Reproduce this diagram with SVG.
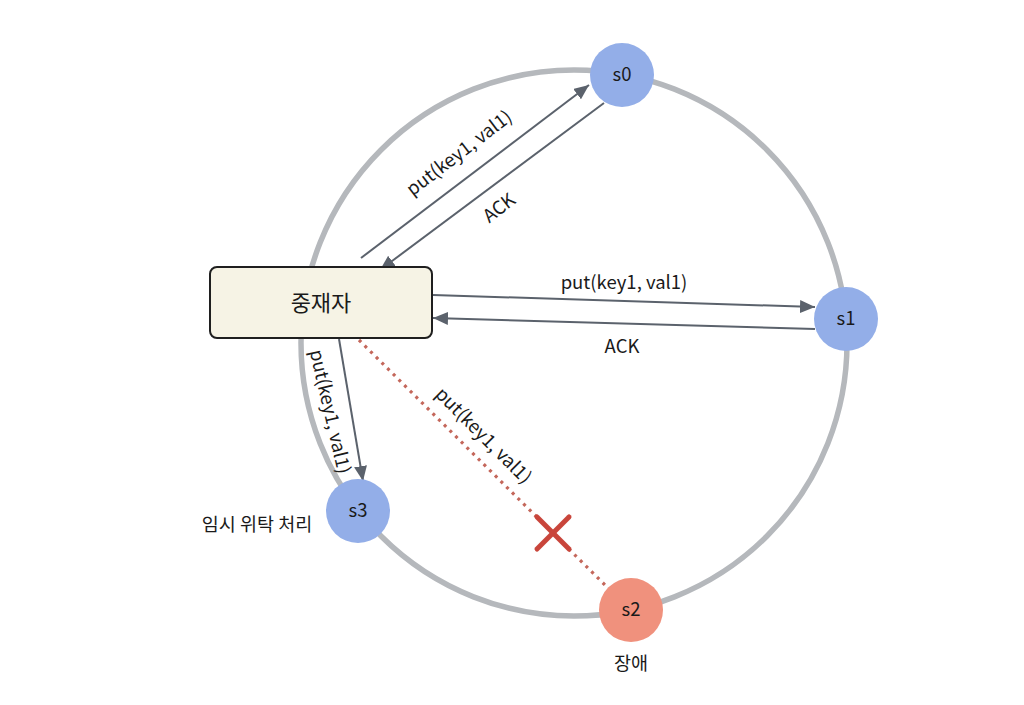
<svg xmlns="http://www.w3.org/2000/svg" width="1024" height="705" viewBox="0 0 1024 705">
<style>
.lbl{font-family:"Noto Sans CJK KR","Noto Sans",sans-serif;font-size:18.5px;fill:#1a1a1a}
.ko{font-family:"Noto Sans CJK KR","Noto Sans",sans-serif;fill:#1a1a1a}
.arr{stroke:#5b626c;stroke-width:2;fill:none}
.node-blue{fill:#93aee8}
.node-red{fill:#f0917d}
</style>
<defs>
<marker id="ah" markerUnits="userSpaceOnUse" markerWidth="15" markerHeight="13" refX="15" refY="6.5" orient="auto">
<path d="M0,0 L15,6.5 L0,13 z" fill="#5b626c"/>
</marker>
</defs>
<rect width="1024" height="705" fill="#ffffff"/>
<circle id="ring" cx="574" cy="343" r="273" fill="none" stroke="#b5b8bc" stroke-width="5.5"/>
<g id="connectors">
<line class="arr" x1="361" y1="258" x2="589" y2="85" marker-end="url(#ah)"/>
<line class="arr" x1="604" y1="103" x2="380" y2="270" marker-end="url(#ah)"/>
<line class="arr" x1="433" y1="295" x2="815" y2="307" marker-end="url(#ah)"/>
<line class="arr" x1="815" y1="329" x2="433" y2="318" marker-end="url(#ah)"/>
<line class="arr" x1="339" y1="339" x2="363" y2="481" marker-end="url(#ah)"/>
<line x1="359" y1="340" x2="606" y2="586" stroke="#c4675b" stroke-width="3.2" stroke-dasharray="3 5"/>
<text class="lbl" transform="translate(463,158) rotate(-37.3)" text-anchor="middle">put(key1, val1)</text>
<text class="lbl" transform="translate(503,213) rotate(-37.3)" text-anchor="middle">ACK</text>
<text class="lbl" x="624" y="289" text-anchor="middle">put(key1, val1)</text>
<text class="lbl" x="622" y="353" text-anchor="middle">ACK</text>
<text class="lbl" transform="translate(324,413) rotate(77)" text-anchor="middle">put(key1, val1)</text>
<text class="lbl" transform="translate(479,440) rotate(45)" text-anchor="middle">put(key1, val1)</text>
<g id="fail-mark" stroke="#c9453b" stroke-width="5" stroke-linecap="round">
<line x1="537" y1="517" x2="569" y2="549"/>
<line x1="569" y1="517" x2="537" y2="549"/>
</g>
</g>
<g id="mediator">
<rect x="210" y="267" width="222" height="71" rx="7" fill="#f6f3e5" stroke="#1f1f1f" stroke-width="2"/>
<text class="ko" x="321" y="311" font-size="22" text-anchor="middle">중재자</text>
</g>
<g id="s0">
<circle class="node-blue" cx="622" cy="75" r="32"/>
<text class="lbl" x="622" y="81" text-anchor="middle">s0</text>
</g>
<g id="s1">
<circle class="node-blue" cx="846" cy="319" r="32"/>
<text class="lbl" x="846" y="325" text-anchor="middle">s1</text>
</g>
<g id="s2">
<circle class="node-red" cx="631" cy="610" r="32"/>
<text class="lbl" x="631" y="616" text-anchor="middle">s2</text>
<text class="ko" x="631" y="670" font-size="18.5" text-anchor="middle">장애</text>
</g>
<g id="s3">
<circle class="node-blue" cx="358" cy="511" r="32"/>
<text class="lbl" x="358" y="517" text-anchor="middle">s3</text>
<text class="ko" x="257" y="531" font-size="18.5" text-anchor="middle">임시 위탁 처리</text>
</g>
</svg>
